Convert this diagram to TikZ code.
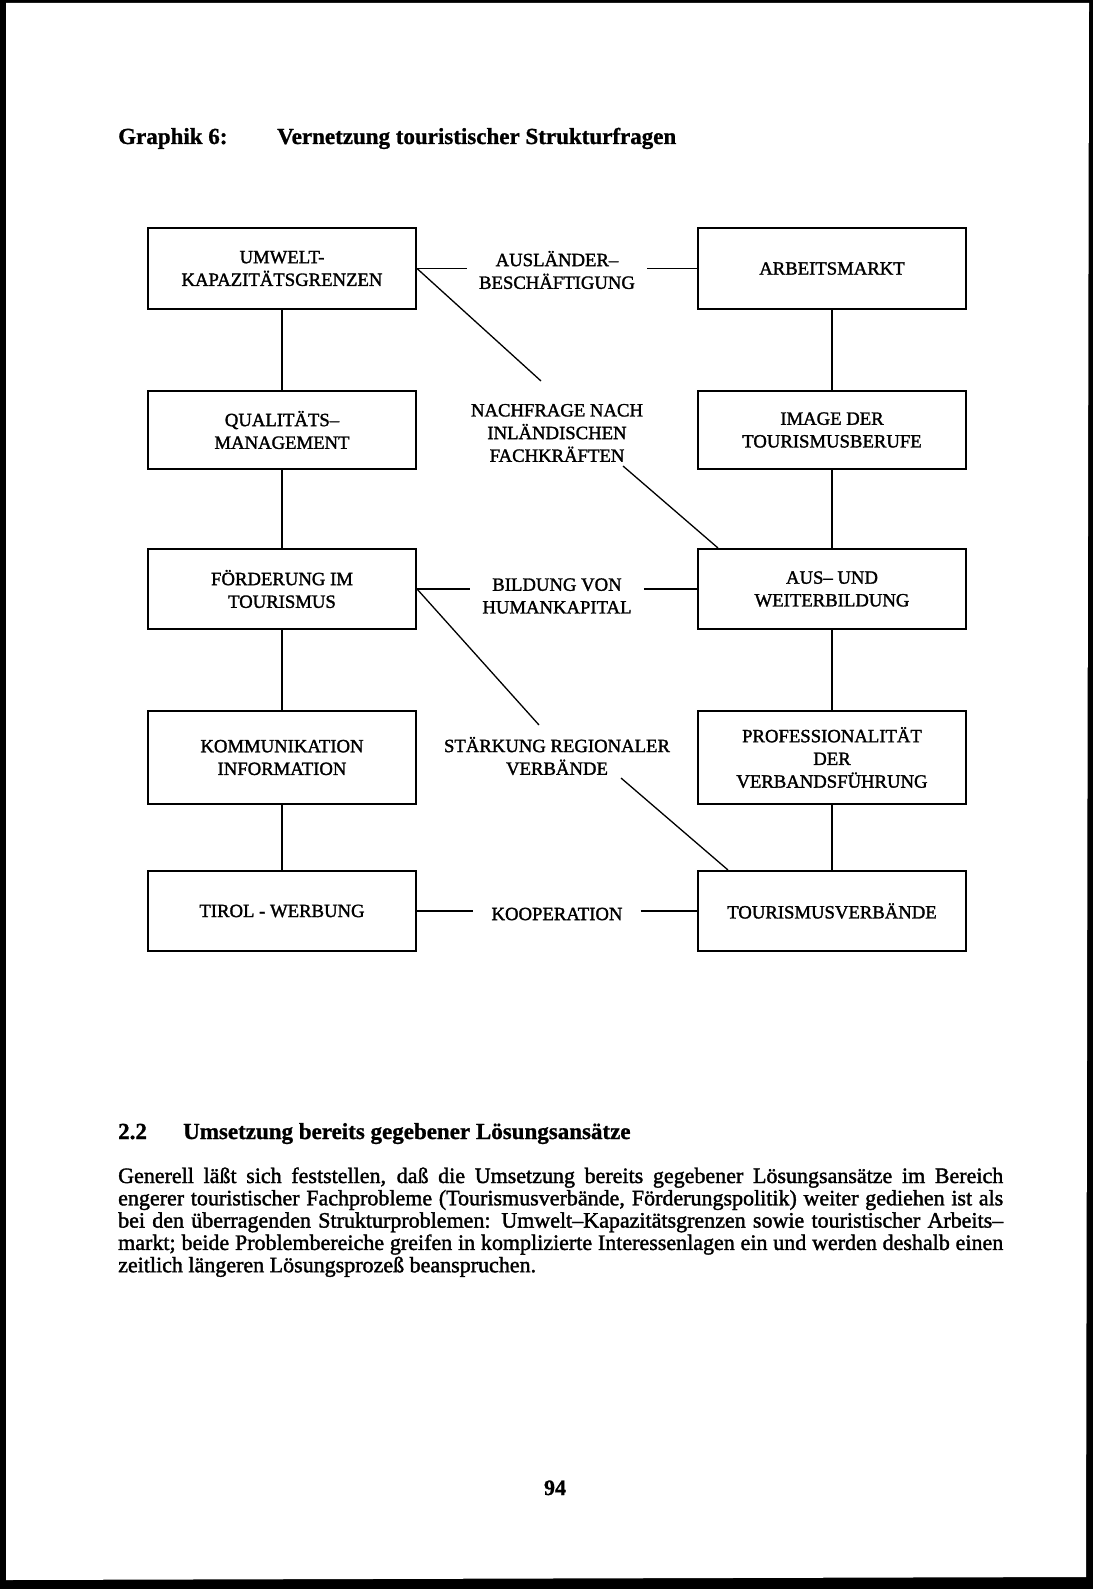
\documentclass[tikz,border=0pt]{standalone}
\usepackage{fontspec}
\setmainfont{Liberation Serif}
\newfontfamily\ink{Liberation Serif}[FakeBold=1.6]
\newfontfamily\inkbold{Liberation Serif Bold}[FakeBold=1.0]
\usetikzlibrary{calc}
\newcommand\boxfont{\ink\fontsize{18.7}{22.7}\selectfont}
\newcommand\titlefont{\inkbold\fontsize{23}{27}\selectfont}
\newcommand\parafont{\ink\fontsize{22}{22.3}\selectfont}
\begin{document}
\begin{tikzpicture}[x=1pt,y=-1pt,
  box/.style={draw=black, line width=2pt, minimum width=268pt, align=center, inner sep=0pt, font=\boxfont},
  lab/.style={align=center, inner sep=0pt, inner xsep=12pt, font=\boxfont},
  conn/.style={line width=1.3pt},
  txt/.style={anchor=base west, inner sep=0pt}]
\useasboundingbox (0,0) rectangle (1093,1589);
% scan frame
\fill[black] (0,0) rectangle (1093,1589);
\fill[white] (6,3) -- (1089,3) -- (1086,1577) -- (6,1580) -- cycle;

% title
\node[txt, font=\titlefont] (tA) at (118,144) {Graphik 6:};
\node[txt, font=\titlefont] (tB) at (277,144) {Vernetzung touristischer Strukturfragen};

% boxes left column
\node[box, minimum height=80pt] (l1) at (282,268.5) {UMWELT-\\KAPAZITÄTSGRENZEN};
\node[box, minimum height=78pt] (l2) at (282,430) {QUALITÄTS–\\MANAGEMENT};
\node[box, minimum height=80pt] (l3) at (282,589) {FÖRDERUNG IM\\TOURISMUS};
\node[box, minimum height=93pt] (l4) at (282,757.5) {KOMMUNIKATION\\INFORMATION};
\node[box, minimum height=80pt] (l5) at (282,911) {TIROL - WERBUNG};
% boxes right column
\node[box, minimum height=80pt] (r1) at (832,268.5) {ARBEITSMARKT};
\node[box, minimum height=78pt] (r2) at (832,430) {IMAGE DER\\TOURISMUSBERUFE};
\node[box, minimum height=80pt] (r3) at (832,589) {AUS– UND\\WEITERBILDUNG};
\node[box, minimum height=93pt] (r4) at (832,757.5) {PROFESSIONALITÄT\\DER\\VERBANDSFÜHRUNG};
\node[box, minimum height=80pt] (r5) at (832,911) {TOURISMUSVERBÄNDE};

% middle labels
\node[lab] (m1) at (557,270) {AUSLÄNDER–\\BESCHÄFTIGUNG};
\node[lab] (m2) at (557,433) {NACHFRAGE NACH\\INLÄNDISCHEN\\FACHKRÄFTEN};
\node[lab] (m3) at (557,596) {BILDUNG VON\\HUMANKAPITAL};
\node[lab] (m4) at (557,756) {STÄRKUNG REGIONALER\\VERBÄNDE};
\node[lab, inner xsep=18pt] (m5) at (557,914) {KOOPERATION};

% vertical connectors
\draw[conn] (l1.south) -- (l2.north);
\draw[conn] (l2.south) -- (l3.north);
\draw[conn] (l3.south) -- (l4.north);
\draw[conn] (l4.south) -- (l5.north);
\draw[conn] (r1.south) -- (r2.north);
\draw[conn] (r2.south) -- (r3.north);
\draw[conn] (r3.south) -- (r4.north);
\draw[conn] (r4.south) -- (r5.north);

% horizontal connectors
\draw[conn] (l1.east) -- (m1.west |- l1.east);
\draw[conn] (m1.east |- r1.west) -- (r1.west);
\draw[conn] (l3.east) -- (m3.west |- l3.east);
\draw[conn] (m3.east |- r3.west) -- (r3.west);
\draw[conn] (l5.east) -- (m5.west |- l5.east);
\draw[conn] (m5.east |- r5.west) -- (r5.west);

% diagonal connectors
\coordinate (d1e) at (541,381);
\coordinate (d2s) at (623,466);
\coordinate (d3e) at (539,725);
\coordinate (d4s) at (621,778);
\draw[conn] (l1.east) -- (d1e);
\draw[conn] (d2s) -- ($(r3.north west)+(21,0)$);
\draw[conn] (l3.east) -- (d3e);
\draw[conn] (d4s) -- ($(r5.north west)+(31,0)$);

% section heading
\node[txt, font=\titlefont] (hA) at (118,1139) {2.2};
\node[txt, font=\titlefont] (hB) at (183,1139) {Umsetzung bereits gegebener Lösungsansätze};

% paragraph
\node[txt, font=\parafont] (p1) at (118,1183) {\makebox[885pt][s]{Generell läßt sich feststellen, daß die Umsetzung bereits gegebener Lösungsansätze im Bereich}};
\node[txt, font=\parafont] (p2) at (118,1205.3) {\makebox[885pt][s]{engerer touristischer Fachprobleme (Tourismusverbände, Förderungspolitik) weiter gediehen ist als}};
\node[txt, font=\parafont] (p3) at (118,1227.6) {\makebox[885pt][s]{bei den überragenden Strukturproblemen: Umwelt–Kapazitätsgrenzen sowie touristischer Arbeits–}};
\node[txt, font=\parafont] (p4) at (118,1249.9) {\makebox[885pt][s]{markt; beide Problembereiche greifen in komplizierte Interessenlagen ein und werden deshalb einen}};
\node[txt, font=\parafont] (p5) at (118,1272.2) {zeitlich längeren Lösungsprozeß beanspruchen.};

% page number
\node[anchor=base, inner sep=0pt, font=\inkbold\fontsize{22}{24}\selectfont] (pg) at (555,1495) {94};
\end{tikzpicture}
\end{document}
